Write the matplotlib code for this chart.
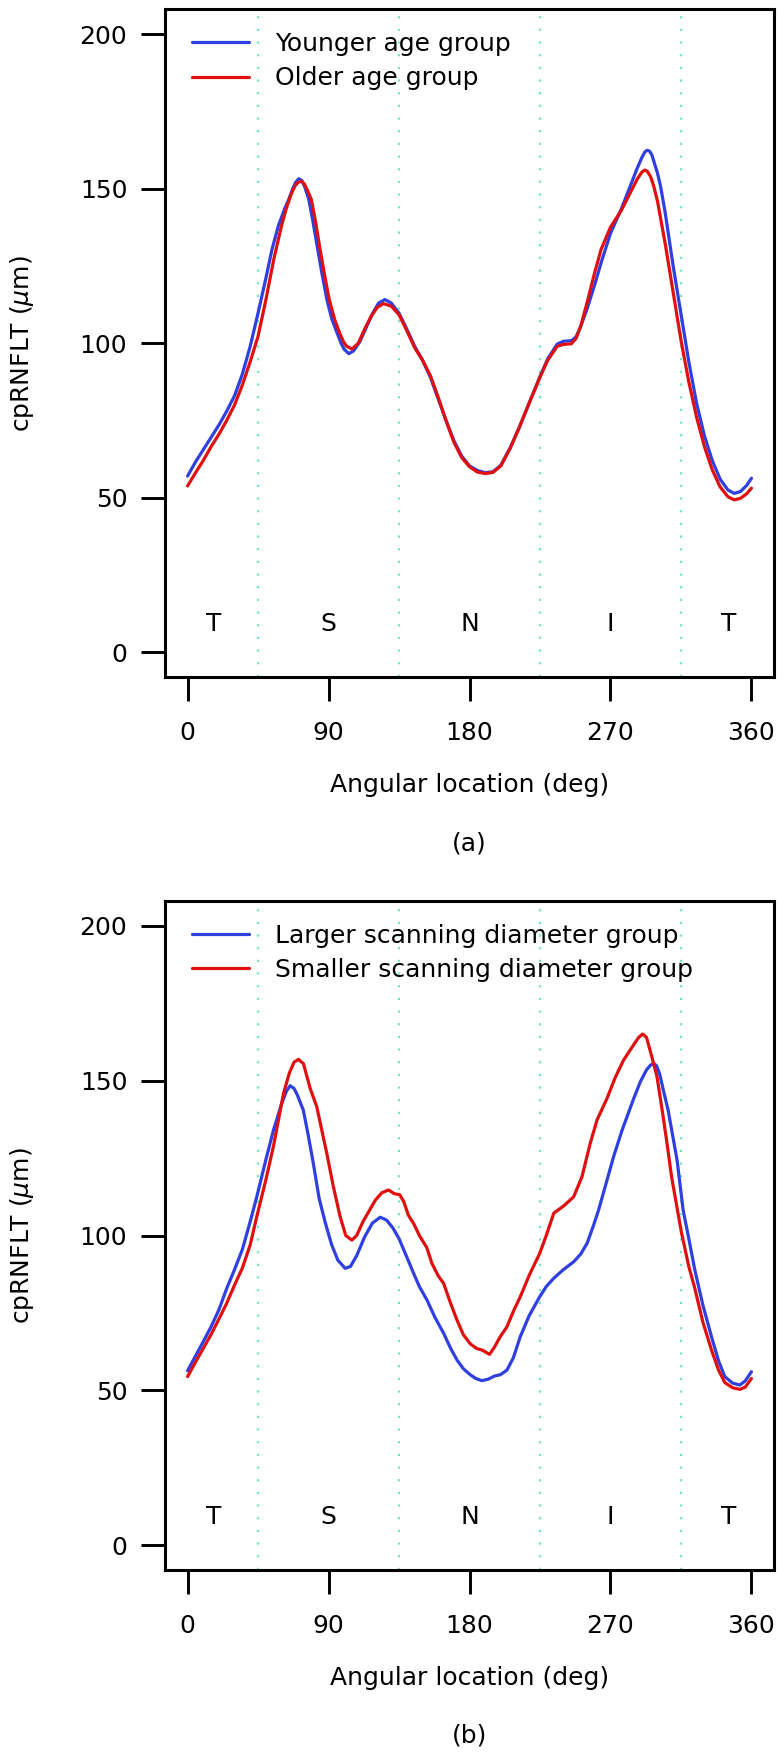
import matplotlib
matplotlib.use("Agg")
import matplotlib.pyplot as plt

# ---------------- data ----------------
top_blue_deg = [0, 5, 10, 15, 20, 25, 30, 35, 40, 45, 50, 53.9, 58, 62, 64.6, 67, 69, 71, 73, 75, 77.4, 80, 83.1,
                86, 89, 92, 95.4, 98, 100, 103,
                106, 110, 114, 118, 122, 126, 130, 135, 140, 145, 150, 155, 160, 165, 170, 175, 180, 185, 190, 195,
                200, 206, 212, 218, 225, 230, 236, 240, 245, 248, 251, 255, 260, 264, 270, 277, 282, 287, 290,
                292, 293.5, 295, 296.5, 298, 300, 302, 305, 310, 315, 320, 325, 330, 335, 340, 345, 349, 353, 357,
                360]
top_blue_val = [57.0, 61.5, 65.5, 69.5, 73.5, 78, 83, 90, 99, 109.7, 121, 130.3, 138, 143.5, 146.5, 149.8, 152,
                153.2, 152.6, 150.3, 146.5, 139.5, 130.3, 122, 114, 108, 103.4, 100, 98, 96.6,
                97.5, 100.5, 105, 109.5, 113, 114.1, 113, 109.7, 104.5, 99, 94.5, 89, 82, 75, 68.5, 63.5, 60.3, 58.8,
                58.1, 58.4, 60.5, 66.2, 73, 80.5, 89.2, 95, 99.7, 100.6, 100.8, 102, 105.4, 111, 119, 126, 135.5,
                143.5, 150, 156.5, 160, 161.9, 162.4, 162.1, 160.8, 158.3, 155, 150.7, 142, 125, 109.5, 94, 80.5,
                70, 62, 56, 52.5, 51.4, 52, 54, 56.3]

top_red_deg = [0, 5, 10, 15, 20, 25, 30, 35, 40, 45, 50, 55, 60, 63, 66, 68.5, 70.5, 72.5, 74.5, 76.5, 79, 82,
               84.6, 87.5, 90.5, 94, 97, 99.5, 101.5, 105,
               109, 113, 117, 121, 125, 130, 135, 140, 145, 150, 155, 160, 165, 170, 175, 180, 185, 190, 195, 200,
               206, 212, 218, 225, 230, 236, 240, 245, 248, 251, 255, 260, 264, 270, 277, 282, 287, 290, 291.8,
               293.5, 295.5, 297.5, 300, 302.5, 305, 310, 315, 320, 325, 330, 335, 340, 345, 349, 353, 357, 360]
top_red_val = [53.8, 58, 62, 66.5, 70.5, 75, 80, 86.5, 94, 102.2, 114, 127, 138, 143.5, 148, 150.8, 152, 152.4,
               151.6, 149.5, 146.5, 138.5, 130.3, 122, 114, 107.5, 103.4, 100.5, 99, 98.1,
               100, 104.5, 108.5, 111.5, 112.8, 112, 109.2, 104, 98.5, 94.5, 89.5, 82.5, 75, 68, 63, 60, 58.3, 57.8,
               58.2, 60.3, 66, 73, 80.5, 89, 94.5, 99, 99.6, 99.8, 101.5, 105.5, 113, 123, 130.3, 137.5, 143, 148,
               153, 155.3, 156, 155.6, 154, 151, 146, 139, 132, 116.5, 101, 87.5, 76, 66.5, 59, 53.5, 50.3, 49.3,
               49.8, 51.3, 53.1]

bot_blue_deg = [0, 5, 10, 15, 20, 25, 30, 35, 40, 44.2, 50, 54.9, 60, 63, 65.5, 68, 70, 73.9, 77, 80.3, 84, 88,
                92, 96, 100.6, 104, 108, 113, 118, 123, 127, 131, 135, 140, 144.3, 148, 152.8, 158, 163.5, 168,
                172, 176, 180.5, 184, 187.9, 192, 196, 199.6, 203.9, 208, 212.4, 218, 224.8, 229, 233.8, 240,
                246.5, 251, 255.1, 259, 262.4, 267.8, 272, 277.4, 284.8, 289.1, 293, 295.5, 297.6, 299.5, 301.5,
                303.5, 306.8, 312.5, 316.4, 320, 323.8, 329, 334.5, 339, 343, 348, 352.6, 356, 360]
bot_blue_val = [56.3, 61, 65.7, 70.5, 76, 82.9, 89, 95.5, 104.5, 112.5, 124.5, 134.1, 142.5, 146.5, 148.4, 147.5,
                145.5, 140.5, 132.5, 123.3, 112, 104, 97, 92, 89.4, 90, 93.5, 99.5, 104, 105.9, 105, 102.5, 99,
                93, 87.8, 83.5, 79.2, 73.5, 68.4, 63.5, 59.8, 57, 55, 53.8, 53.1, 53.6, 54.6, 55, 56.5, 60.5,
                67.3, 74, 80.2, 83.5, 86.2, 89, 91.5, 94, 97.5, 103, 108.2, 117.9, 125.5, 134, 144.2, 149.7,
                153.5, 155, 155.6, 154.8, 152, 147.5, 140.5, 124.4, 108.2, 99, 89, 77.5, 67.3, 59.5, 54.4, 52.3,
                51.7, 53, 56]

bot_red_deg = [0, 5, 10, 15, 20, 25, 30, 35, 40, 44.2, 50, 54.9, 61.3, 65, 68, 70.8, 74, 78.3, 82.5, 85.5, 88.9,
               93, 97.4, 101, 104.9, 108, 112, 116, 120, 124, 128.3, 132, 135.4, 138, 141, 144.3, 148, 152.8,
               156, 160, 163.5, 168, 172, 176, 180.5, 184.6, 188, 192.8, 196, 199.6, 203.9, 208, 212.4, 218,
               224.8, 229, 233.8, 240, 246.5, 251.8, 257.1, 261.4, 267.8, 273, 278.4, 284, 288, 290.6, 293, 296,
               299.7, 303, 306.1, 309, 312.5, 315.3, 320, 323.8, 329, 334.5, 339, 343, 348, 352.6, 356, 360]
bot_red_val = [54.4, 59, 63.5, 68, 73, 78.1, 84, 89.5, 97, 106.1, 118, 129, 146, 152.5, 156, 156.9, 155.5, 147.5,
               141.6, 134.5, 126.5, 116, 106.1, 100, 98.5, 100, 104.5, 108, 111.5, 113.8, 114.7, 113.5, 113.2,
               111, 106.5, 103.9, 100, 96, 91, 87, 84.5, 78, 72.7, 68, 65, 63.5, 63, 61.6, 64, 67.3, 70.5, 75.5,
               80.2, 87, 94.2, 100, 107.2, 109.5, 112.5, 119, 129.8, 137.3, 144.3, 151, 156.7, 161, 164, 165.1,
               164, 158.5, 151.3, 140.5, 129.8, 119, 109, 101, 90, 83, 72, 63, 56.5, 52.5, 50.8, 50.3, 51, 53.8]

sector_bounds = [45, 135, 225, 315]
sector_labels = ["T", "S", "N", "I", "T"]
sector_label_x = [17, 90, 180, 270, 345.5]
sector_label_y = 10

x_ticks = [0, 90, 180, 270, 360]
y_ticks = [0, 50, 100, 150, 200]

panels = [
    dict(blue=(top_blue_deg, top_blue_val), red=(top_red_deg, top_red_val),
         names=["Younger age group", "Older age group"], tag="(a)"),
    dict(blue=(bot_blue_deg, bot_blue_val), red=(bot_red_deg, bot_red_val),
         names=["Larger scanning diameter group", "Smaller scanning diameter group"], tag="(b)"),
]

# ---------------- style ----------------
W, H = 783, 1757
DPI = 100
FS = 18
plt.rcParams['font.family'] = ['DejaVu Sans']
plt.rcParams['mathtext.fontset'] = 'dejavusans'

BLUE = '#2f3fe0'
RED = '#e01010'
DOT = '#6fe8c0'

fig = plt.figure(figsize=(W / DPI, H / DPI), dpi=DPI)

# axes boxes in pixels (left, top, right, bottom)
boxes = [(165, 9.3, 774, 677.0), (165, 901.2, 774, 1569.8)]

for panel, (l, t, r, b) in zip(panels, boxes):
    ax = fig.add_axes([l / W, 1 - b / H, (r - l) / W, (b - t) / H])
    ax.set_xlim(-14.4, 374.4)
    ax.set_ylim(-8, 208)
    for xb in sector_bounds:
        ax.axvline(xb, color=DOT, lw=1.6, ls=(0, (1, 4.7)), zorder=1)
    ax.plot(*panel['blue'], color=BLUE, lw=2.3, label=panel['names'][0], zorder=3,
            solid_joinstyle='round', solid_capstyle='round')
    ax.plot(*panel['red'], color=RED, lw=2.3, label=panel['names'][1], zorder=4,
            solid_joinstyle='round', solid_capstyle='round')
    for lab, lx in zip(sector_labels, sector_label_x):
        ax.text(lx, sector_label_y, lab, ha='center', va='center_baseline', fontsize=FS)
    ax.set_xticks(x_ticks)
    ax.set_yticks(y_ticks)
    ax.tick_params(axis='both', direction='out', length=17.3, width=2.1, labelsize=FS, color='black')
    ax.tick_params(axis='x', pad=14.5)
    ax.tick_params(axis='y', pad=9.8)
    for s in ax.spines.values():
        s.set_linewidth(2.2)
    leg = ax.legend(loc='upper left', bbox_to_anchor=((191.5 - l) / (r - l), 1 - 22.5 / (b - t)),
                    frameon=False, fontsize=FS, handlelength=2.3, handletextpad=1.05,
                    labelspacing=0.42, borderpad=0, borderaxespad=0)
    for ln in leg.get_lines():
        ln.set_linewidth(2.3)
    cx = (l + r) / 2 / W
    fig.text(cx, 1 - (b + 115) / H, "Angular location (deg)", ha='center', va='baseline', fontsize=FS)
    fig.text(cx, 1 - (b + 173) / H, panel['tag'], ha='center', va='baseline', fontsize=FS)
    fig.text(22.5 / W, 1 - (t + b) / 2 / H, r"cpRNFLT ($\mu$m)", rotation=90, ha='center', va='center',
             fontsize=FS)

fig.savefig("out.png", dpi=DPI)
